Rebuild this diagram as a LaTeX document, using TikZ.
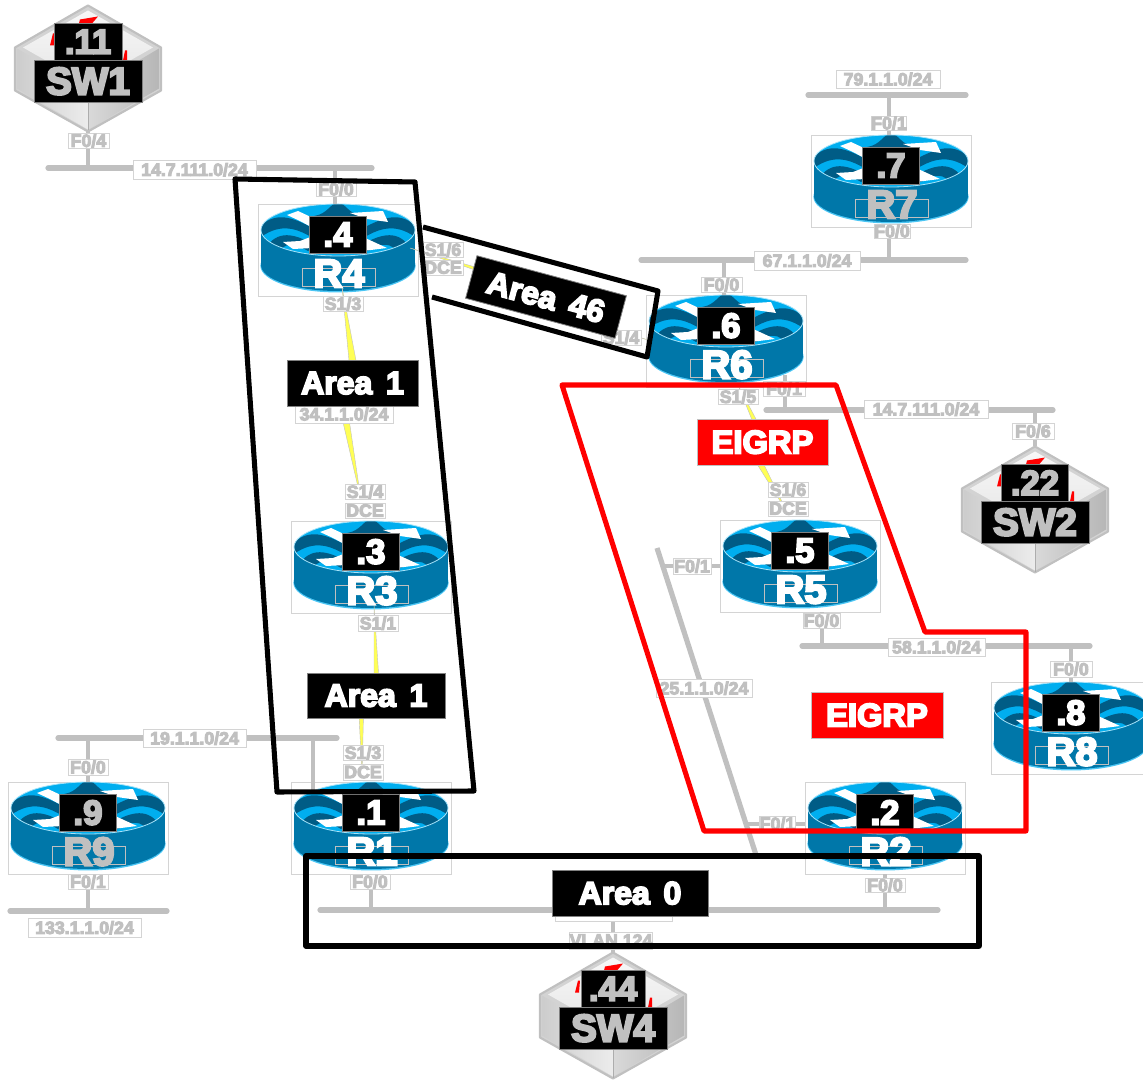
\documentclass[tikz,border=0pt]{standalone}
\usepackage{fontspec}
\setmainfont{Liberation Sans}[BoldFont={Liberation Sans Bold},BoldFeatures={FakeBold=5.5}]
\usetikzlibrary{calc}
\definecolor{gline}{HTML}{C0C0C0}
\definecolor{gtext}{HTML}{C0C0C0}
\definecolor{gbox}{HTML}{D4D4D4}
\definecolor{rbody}{HTML}{0077A9}
\definecolor{rtop}{HTML}{00AEEF}
\definecolor{rwave}{HTML}{005C86}
\definecolor{syel}{HTML}{FFFF55}
\tikzset{
  base/.style={inner sep=0pt,outer sep=0pt,align=center,text depth=0pt},
  lbl/.style={base,draw=gbox,line width=.7pt,fill=white,text=gtext,font=\fontsize{13.3}{14}\bfseries\selectfont},
  ipbox/.style={base,draw=gray,line width=.6pt,fill=black,text=#1,font=\fontsize{26}{28}\bfseries\selectfont},
  swname/.style={base,draw=gray,line width=.6pt,fill=black,text=gtext,font=\fontsize{29}{31}\bfseries\selectfont},
  areabox/.style={base,draw=gray,line width=.6pt,fill=black,text=white,font=\fontsize{24}{26}\bfseries\selectfont},
  redbox/.style={base,draw=gline,line width=.6pt,fill=red,text=white,font=\fontsize{24.5}{26}\bfseries\selectfont},
  frame/.style={base,draw=gbox,line width=.7pt,minimum width=120pt,minimum height=69pt},
  bus/.style={draw=gline,line width=3.9pt,line cap=round},
  tap/.style={draw=gline,line width=2.8pt},
  serial/.style={draw=gline,line width=.3pt,fill=syel,line join=round},
  blackzone/.style={draw=black,line width=3.8pt,line join=round},
  redzone/.style={draw=red,line width=3.8pt,line join=round},
}
% #1 style #2 name #3 x1 #4 y1 #5 x2 #6 y2 #7 text
\newcommand\bx[7][lbl]{\node[#1,minimum width={(#5-#3)*0.75pt},minimum height={(#6-#4)*0.75pt}] (#2) at ({(#3+#5)/2},{(#4+#6)/2}) {#7};}
% router frame and body: name cx cy
\newcommand\routerbody[3]{%
  \node[frame] (#1) at (#2,#3) {};
  \begin{scope}[shift={(#2,#3)}]
    \fill[rtop!70!white] (0,15.8) ellipse [x radius=58.2pt,y radius=20pt];
    \fill[rbody] (0,15) ellipse [x radius=57.75pt,y radius=19.5pt];
    \fill[rbody] (-77,-20) rectangle (77,15);
    \begin{scope}
      \clip (0,-20) ellipse [x radius=57.75pt,y radius=19.5pt];
      \fill[rtop] (-78,-47) rectangle (78,7);
      \fill[rwave] (-80,-22) .. controls (-62,-40) and (-45,-32) .. (-25,-22) -- (-25,-12) .. controls (-45,-24) and (-60,-26) .. (-80,-11) -- cycle;
      \fill[rwave] (80,-22) .. controls (62,-40) and (45,-32) .. (25,-22) -- (25,-12) .. controls (45,-24) and (60,-26) .. (80,-11) -- cycle;
      \fill[rwave] (-70,-5) .. controls (-58,-21) and (-40,-15) .. (-22,-4) -- (-30,1) .. controls (-42,-7) and (-55,-9) .. (-60,5) -- cycle;
      \fill[rwave] (70,-5) .. controls (58,-21) and (40,-15) .. (22,-4) -- (30,1) .. controls (42,-7) and (55,-9) .. (60,5) -- cycle;
      \fill[rwave] (-24,-34) .. controls (-10,-36) and (-8,-47) .. (0,-47) .. controls (8,-47) and (10,-36) .. (24,-34) -- cycle;
      \fill[white] (-51,-35) -- (-40,-39) -- (-25,-32) -- (-25,-22) -- (-38,-29) -- cycle;
      \fill[white] (12,-37) -- (45,-39) -- (50,-28) -- (29,-31) -- cycle;
      \fill[white] (-55,-8) -- (-38,-9) -- (-25,-14) -- (-25,-2) -- (-45,-1) -- cycle;
      \fill[white] (25,-13) -- (49,-2) -- (25,1) -- cycle;
    \end{scope}
    \draw[rtop!35!white,line width=.6pt] (0,-20) ellipse [x radius=57.75pt,y radius=19.5pt];
  \end{scope}}
\newcommand\switchdev[6]{% name cx cy ip-halfwidth ip label
  \begin{scope}[shift={(#2,#3)}]
    \node[base,minimum width=109.5pt,minimum height=94.5pt] (#1) at (0,0) {};
    \fill[gline!70!white] (0,-63) -- (73,-21) -- (73,22) -- (0,63) -- (-73,22) -- (-73,-21) -- cycle;
    \shade[left color=gline!80!white,right color=gline!30!white] (-71,-20) -- (0,22) -- (0,61) -- (-71,20) -- cycle;
    \shade[left color=gline!60!white,right color=gline!95!black] (71,-20) -- (0,22) -- (0,61) -- (71,20) -- cycle;
    \shade[top color=white!97!black,bottom color=white!90!black] (0,-58) -- (65,-21) -- (0,16) -- (-65,-21) -- cycle;
    \draw[gline,line width=1.6pt,line join=round] (0,-63) -- (73,-21) -- (73,22) -- (0,63) -- (-73,22) -- (-73,-21) -- cycle;
    \draw[gline!90!black,line width=.4pt] (0,34) -- (0,62);
    \fill[red] (-8,-49) -- (10,-52) -- (4,-45) -- (-9,-45) -- cycle;
    \fill[red] (-38,-23) -- (-35,-35) -- (-33,-35) -- (-34,-23) -- cycle;
    \fill[red] (35,-8) -- (37,-18) -- (39,-18) -- (39,-8) -- cycle;
    \bx[ipbox=gtext]{#1ip}{-#4}{-45}{#4}{-8.5}{#5}
    \bx[swname]{#1nm}{-54}{-8.5}{54}{33.5}{#6}
  \end{scope}}
\newcommand\rtx[5]{\begin{scope}[shift={(#2,#3)}]
  \node[base,draw=gline,line width=.6pt,minimum width=54.75pt,minimum height=13.5pt] (#1sm) at (0.5,27) {};
  \bx[ipbox=#5]{#1ip}{-28.5}{-34}{28.5}{3}{#4}
  \node[base,text=#5,font=\fontsize{30}{32}\bfseries\selectfont] (#1nm) at (1,23.5) {#1};
\end{scope}}
\begin{document}
\begin{tikzpicture}[x=0.75pt,y=-0.75pt]
\useasboundingbox (0,0) rectangle (1143,1080);
% ---- routers (frames + bodies)
\routerbody{R4}{338}{250}
\routerbody{R6}{726}{341}
\routerbody{R7}{891}{181}
\routerbody{R3}{371}{567}
\routerbody{R5}{800}{566}
\routerbody{R8}{1071}{728}
\routerbody{R2}{885}{828}
\routerbody{R1}{371}{828}
\routerbody{R9}{88}{828}
% ---- switches
\switchdev{SW1}{88}{68.5}{34}{.11}{SW1}
\switchdev{SW2}{1035}{509.5}{33.5}{.22}{SW2}
\switchdev{SW4}{613}{1015.5}{32}{.44}{SW4}
% ---- bus coordinates
\coordinate (aA) at (48,168);    \coordinate (aB) at (372,168);
\coordinate (bA) at (808,95);    \coordinate (bB) at (966,95);
\coordinate (cA) at (641,260);   \coordinate (cB) at (966,260);
\coordinate (dA) at (766,410);   \coordinate (dB) at (1053,410);
\coordinate (eA) at (802,646);   \coordinate (eB) at (1090,646);
\coordinate (fA) at (657,548);   \coordinate (fB) at (757,858);
\coordinate (gA) at (58,738);    \coordinate (gB) at (337,738);
\coordinate (hA) at (10,911);    \coordinate (hB) at (167,911);
\coordinate (iA) at (320,910);   \coordinate (iB) at (938,910);
\draw[bus] (aA) -- (aB);
\draw[bus] (bA) -- (bB);
\draw[bus] (cA) -- (cB);
\draw[bus] (dA) -- (dB);
\draw[bus] (eA) -- (eB);
\draw[bus,line cap=butt] (fA) -- (fB);
\draw[bus] (gA) -- (gB);
\draw[bus] (hA) -- (hB);
\draw[bus] (iA) -- (iB);
% ---- taps
\coordinate (t1) at (88,168);   \draw[tap] (t1) -- (t1 |- SW1.south);
\coordinate (t2) at (335,168);  \draw[tap] (t2) -- (t2 |- R4.north);
\coordinate (t3) at (889,95);   \draw[tap] (t3) -- (t3 |- R7.north);
\coordinate (t4) at (889,260);  \draw[tap] (t4) -- (t4 |- R7.south);
\coordinate (t5) at (724,260);  \draw[tap] (t5) -- (t5 |- R6.north);
\coordinate (t6) at (785,410);  \coordinate (t6e) at (785,375); \draw[tap] (t6) -- (t6e);
\coordinate (t7) at (1035,410); \draw[tap] (t7) -- (t7 |- SW2.north);
\coordinate (t8) at (822,646);  \draw[tap] (t8) -- (t8 |- R5.south);
\coordinate (t9) at (1071,646); \draw[tap] (t9) -- (t9 |- R8.north);
\coordinate (t10) at (665,566); \draw[tap] (t10) -- (t10 -| R5.west);
\coordinate (t11) at (745,824); \draw[tap] (t11) -- (t11 -| R2.west);
\coordinate (t12) at (88,738);  \draw[tap] (t12) -- (t12 |- R9.north);
\coordinate (t13) at (313,738); \coordinate (t13e) at (313,790); \draw[tap] (t13) -- (t13e);
\coordinate (t14) at (88,911);  \draw[tap] (t14) -- (t14 |- R9.south);
\coordinate (t15) at (371,910); \draw[tap] (t15) -- (t15 |- R1.south);
\coordinate (t16) at (885,910); \draw[tap] (t16) -- (t16 |- R2.south);
\coordinate (t17) at (613,910); \draw[tap] (t17) -- (t17 |- SW4.north);
% ---- serial links
\coordinate (s1a) at (342,287); \coordinate (s1b) at (361,500);
\draw[serial] (s1a) -- (362,392) -- (345,392) -- (s1b) -- (336,392) -- (352,392) -- cycle;
\coordinate (s2a) at (374,605); \coordinate (s2b) at (362,775);
\draw[serial] (s2a) -- (380,695) -- (364,695) -- (s2b) -- (358,695) -- (374,695) -- cycle;
\coordinate (s3a) at (410,248); \coordinate (s3b) at (648,340);
\draw[serial] (s3a) -- (540,292) -- (530,300) -- (s3b) -- (522,304) -- (540,286) -- cycle;
\coordinate (s4a) at (738,385); \coordinate (s4b) at (787,512);
\draw[serial] (s4a) -- (767,440) -- (752,440) -- (s4b) -- (742,440) -- (760,440) -- cycle;
% ---- interface and subnet labels
\bx{l1}{133}{160}{256}{179}{14.7.111.0/24}
\bx{l2}{68}{133}{109}{148}{F0/4}
\bx{l3}{316}{182}{356}{196}{F0/0}
\bx{l4}{836}{70}{940}{88}{79.1.1.0/24}
\bx{l5}{874}{116}{904}{130}{F0/1}
\bx{l6}{754}{251}{860}{270}{67.1.1.0/24}
\bx{l7}{874}{224}{910}{238}{F0/0}
\bx{l8}{701}{277}{742}{292}{F0/0}
\bx{l9}{864}{400}{988}{418}{14.7.111.0/24}
\bx{l10}{1012}{423}{1054}{439}{F0/6}
\bx{l11}{763}{381}{805}{396}{F0/1}
\bx{l12}{888}{638}{985}{656}{58.1.1.0/24}
\bx{l13}{803}{613}{840}{628}{F0/0}
\bx{l14}{1050}{661}{1092}{677}{F0/0}
\bx{l15}{656}{679}{752}{697}{25.1.1.0/24}
\bx{l16}{673}{558}{711}{574}{F0/1}
\bx{l17}{760}{816}{795}{831}{F0/1}
\bx{l18}{143}{729}{246}{747}{19.1.1.0/24}
\bx{l19}{68}{759}{108}{775}{F0/0}
\bx{l20}{68}{874}{108}{889}{F0/1}
\bx{l21}{28}{918}{141}{937}{133.1.1.0/24}
\bx{l22}{350}{874}{390}{889}{F0/0}
\bx{l23}{865}{878}{905}{892}{F0/0}
\bx{l24}{555}{905}{672}{921}{}
\bx{l25}{571}{932}{651}{949}{VLAN 124}
\bx{l26}{323}{296}{363}{311}{S1/3}
\bx{l27}{295}{405}{393}{423}{34.1.1.0/24}
\bx{l28}{345}{484}{385}{499}{S1/4}
\bx{l29}{345}{503}{385}{518}{DCE}
\bx{l30}{358}{615}{398}{631}{S1/1}
\bx{l31}{343}{745}{383}{760}{S1/3}
\bx{l32}{343}{764}{383}{780}{DCE}
\bx{l33}{423}{242}{463}{257}{S1/6}
\bx{l34}{423}{260}{463}{275}{DCE}
\bx{l35}{601}{330}{641}{345}{S1/4}
\bx{l36}{718}{389}{758}{404}{S1/5}
\bx{l37}{768}{482}{808}{497}{S1/6}
\bx{l38}{768}{501}{808}{516}{DCE}
% ---- router text
\rtx{R4}{338}{250}{.4}{white}
\rtx{R6}{726}{341}{.6}{white}
\rtx{R7}{891}{181}{.7}{gtext}
\rtx{R3}{371}{567}{.3}{white}
\rtx{R5}{800}{566}{.5}{white}
\rtx{R8}{1071}{728}{.8}{white}
\rtx{R2}{885}{828}{.2}{white}
\rtx{R1}{371}{828}{.1}{white}
\rtx{R9}{88}{828}{.9}{gtext}
% ---- zones
\coordinate (z1) at (235,179); \coordinate (z2) at (415,182); \coordinate (z3) at (474,791); \coordinate (z4) at (277,792);
\draw[blackzone] (z1) -- (z2) -- (z3) -- (z4) -- cycle;
\coordinate (z5) at (423,227); \coordinate (z6) at (658,291); \coordinate (z7) at (647,357); \coordinate (z8) at (432,297);
\draw[blackzone] (z5) -- (z6) -- (z7) -- (z8);
\coordinate (z9) at (306,856); \coordinate (z10) at (979,946);
\draw[blackzone] (z9) rectangle (z10);
\coordinate (r1) at (562,385); \coordinate (r2) at (836,385); \coordinate (r3) at (925,632); \coordinate (r4) at (1026,632); \coordinate (r5) at (1026,831); \coordinate (r6) at (704,831);
\draw[redzone] (r1) -- (r2) -- (r3) -- (r4) -- (r5) -- (r6) -- cycle;
% ---- zone labels
\bx[areabox]{a1}{287}{360}{418}{406}{Area\hspace{.15em} 1}
\bx[areabox]{a2}{307}{673}{445}{718}{Area\hspace{.15em} 1}
\bx[areabox]{a3}{552}{870}{708}{916}{Area\hspace{.15em} 0}
\node[areabox,minimum width=116pt,minimum height=33pt,rotate=-15] (a4) at (546,297) {Area\hspace{.15em} 46};
\bx[redbox]{e1}{697}{419}{828}{465}{EIGRP}
\bx[redbox]{e2}{811}{692}{943}{738}{EIGRP}
\end{tikzpicture}
\end{document}
